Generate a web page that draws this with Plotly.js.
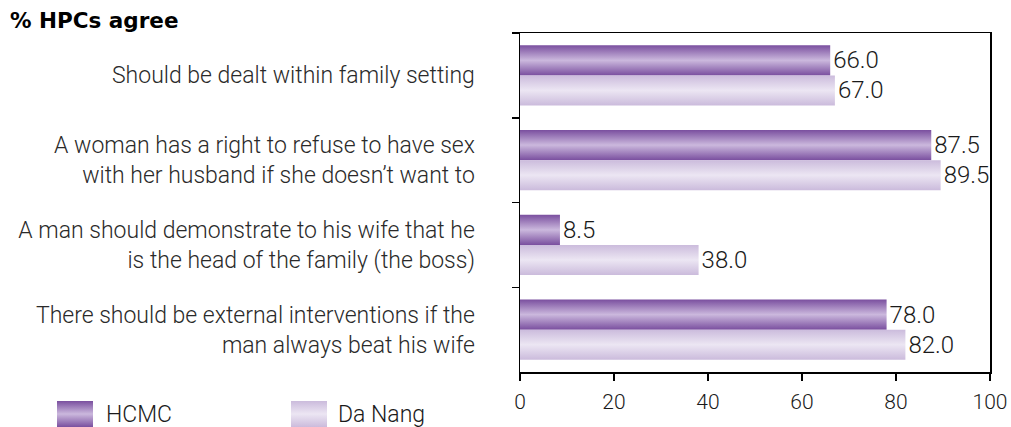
<!DOCTYPE html>
<html>
<head>
<meta charset="utf-8">
<script src="https://cdn.plot.ly/plotly-3.0.1.min.js"></script>
<style>html,body{margin:0;padding:0;background:#fff;}#chart{width:1011px;height:427px;}</style>
</head>
<body>
<div id="chart"></div>
<script>
const categories = [
  "Should be dealt within family setting",
  "A woman has a right to refuse to have sex<br>with her husband if she doesn\u2019t want to",
  "A man should demonstrate to his wife that he<br>is the head of the family (the boss)",
  "There should be external interventions if the<br>man always beat his wife"
];
const seriesNames = ["HCMC", "Da Nang"];
const hcmc = [66.0, 87.5, 8.5, 78.0];
const daNang = [67.0, 89.5, 38.0, 82.0];
const xTicks = [0, 20, 40, 60, 80, 100];

const W = 1011, H = 427;
const M = {l: 520, r: 21, t: 33, b: 55};
const pw = W - M.l - M.r, ph = H - M.t - M.b;
const px = x => (x - M.l) / pw;
const py = y => 1 - (y - M.t) / ph;

const font = "Roboto, 'Liberation Sans', Arial, sans-serif";
const txtColor = "#1a1a1a";
const FS = 23;

const traces = [
  {type: "bar", orientation: "h", name: seriesNames[0], y: categories, x: hcmc,
   marker: {color: "#a58bc4", line: {width: 0}},
   text: hcmc.map(v => v.toFixed(1)), textposition: "outside", cliponaxis: false,
   textfont: {family: font, size: 24, color: txtColor, weight: 300}, showlegend: false, hoverinfo: "x"},
  {type: "bar", orientation: "h", name: seriesNames[1], y: categories, x: daNang,
   marker: {color: "#dcd1e8", line: {width: 0}},
   text: daNang.map(v => v.toFixed(1)), textposition: "outside", cliponaxis: false,
   textfont: {family: font, size: 24, color: txtColor, weight: 300}, showlegend: false, hoverinfo: "x"}
];

const layout = {
  width: W, height: H,
  margin: M,
  paper_bgcolor: "#fff", plot_bgcolor: "#fff",
  barmode: "group", bargap: 0.29, bargroupgap: 0,
  font: {family: font, size: FS, color: txtColor, weight: 300},
  title: {text: "<b>% HPCs agree</b>", x: 10 / W, xanchor: "left", xref: "container",
          y: 1 - 20 / H, yanchor: "middle", yref: "container",
          font: {family: "'DejaVu Sans', Arial, sans-serif", size: 21.5, color: "#000"}},
  xaxis: {range: [0, 100], tickvals: xTicks, ticks: "outside", ticklen: 7, tickwidth: 1.5,
          tickcolor: "#000", showline: true, linecolor: "#000", linewidth: 1.5, mirror: true,
          showgrid: false, zeroline: false, ticklabelstandoff: 3,
          tickfont: {family: font, size: 21, color: txtColor, weight: 300}},
  yaxis: {autorange: "reversed", type: "category", tickson: "boundaries", ticks: "outside",
          ticklen: 7, tickwidth: 1.5, tickcolor: "#000", showline: true, linecolor: "#000",
          linewidth: 1.5, mirror: true, showgrid: false, zeroline: false,
          ticklabelstandoff: 39, tickfont: {family: font, size: FS, color: "#2a2a2a", weight: 300}},
  shapes: [
    {type: "rect", xref: "paper", yref: "paper", x0: px(57), x1: px(93), y0: py(401), y1: py(427),
     fillcolor: "#a58bc4", line: {width: 0}},
    {type: "rect", xref: "paper", yref: "paper", x0: px(291), x1: px(327), y0: py(401), y1: py(427),
     fillcolor: "#dcd1e8", line: {width: 0}}
  ],
  annotations: [
    {xref: "paper", yref: "paper", x: px(104), y: py(414), xanchor: "left", yanchor: "middle",
     text: seriesNames[0], showarrow: false, font: {family: font, size: FS, color: txtColor, weight: 300}},
    {xref: "paper", yref: "paper", x: px(336), y: py(414), xanchor: "left", yanchor: "middle",
     text: seriesNames[1], showarrow: false, font: {family: font, size: FS, color: txtColor, weight: 300}}
  ]
};

function addGradients() {
  const svg = document.querySelector("#chart .main-svg");
  if (!svg) return;
  const ns = "http://www.w3.org/2000/svg";
  let defs = document.getElementById("myGradDefs");
  if (!defs) {
    defs = document.createElementNS(ns, "defs");
    defs.id = "myGradDefs";
    const grads = [
      ["gradHCMC", ["#7a4f9f", "#cbb8dd", "#7a4f9f"]],
      ["gradDN", ["#cbbbdc", "#ece6f3", "#cbbbdc"]]
    ];
    grads.forEach(([id, cols]) => {
      const g = document.createElementNS(ns, "linearGradient");
      g.setAttribute("id", id);
      g.setAttribute("x1", "0"); g.setAttribute("y1", "0");
      g.setAttribute("x2", "0"); g.setAttribute("y2", "1");
      [0, 0.5, 1].forEach((o, i) => {
        const s = document.createElementNS(ns, "stop");
        s.setAttribute("offset", o);
        s.setAttribute("stop-color", cols[i]);
        g.appendChild(s);
      });
      defs.appendChild(g);
    });
    svg.insertBefore(defs, svg.firstChild);
  }
  const ids = ["gradHCMC", "gradDN"];
  document.querySelectorAll("#chart g.trace.bars").forEach((tr, i) => {
    tr.querySelectorAll("g.point path").forEach(p => { p.style.fill = "url(#" + ids[i] + ")"; });
  });
  const shapePaths = document.querySelectorAll("#chart .shapelayer path");
  shapePaths.forEach((p, i) => { if (i < 2) p.style.fill = "url(#" + ids[i] + ")"; });
}

Plotly.newPlot("chart", traces, layout, {displayModeBar: false, staticPlot: true}).then(() => {
  addGradients();
  document.getElementById("chart").on && document.getElementById("chart").on("plotly_afterplot", addGradients);
});
</script>
</body>
</html>
